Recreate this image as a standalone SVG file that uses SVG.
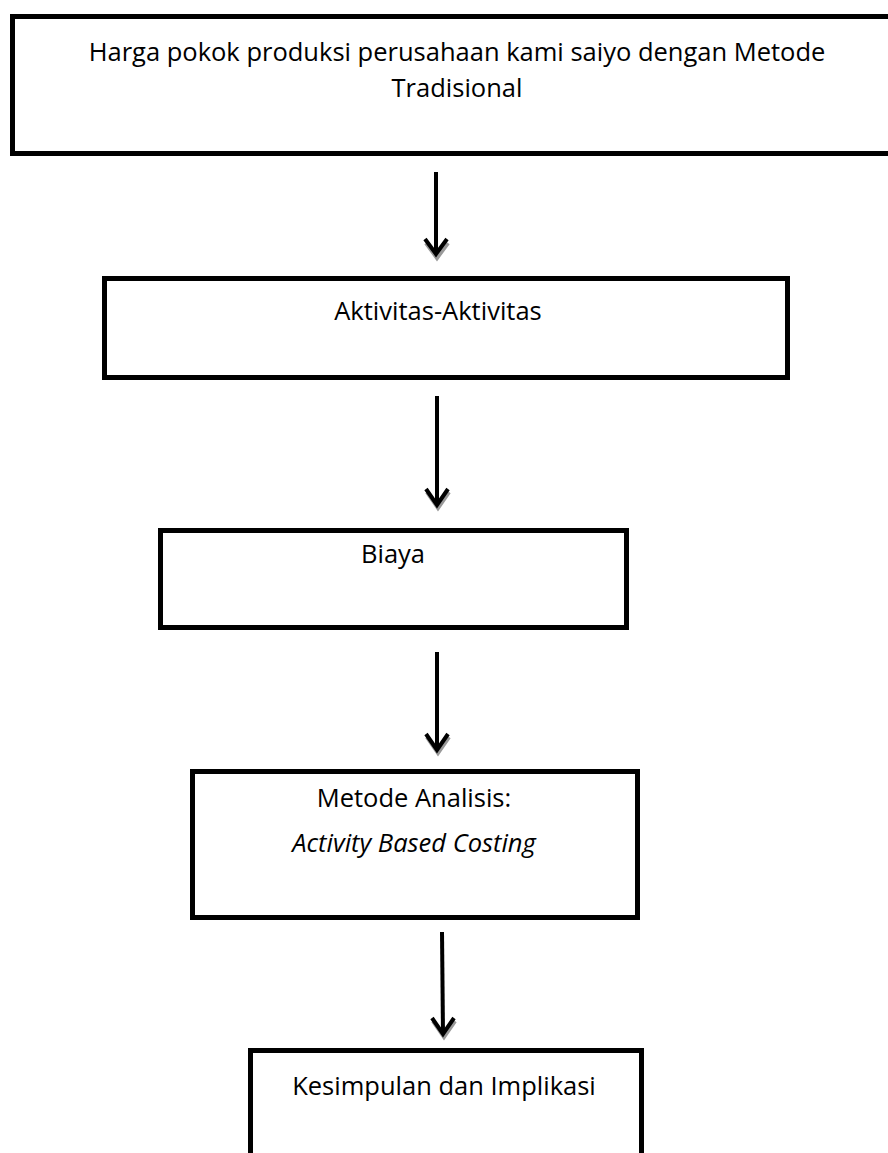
<svg xmlns="http://www.w3.org/2000/svg" width="888" height="1153" viewBox="0 0 888 1153">
<defs>
<style>
.box{fill:#fff;stroke:#000;stroke-width:5}
.t{font-family:"Open Sans","Liberation Sans",sans-serif;font-size:25.5px;fill:#000;text-anchor:middle}
.i{font-style:italic}
.sh{fill:none;stroke:#000;stroke-width:4}
.hd{fill:none;stroke:#000;stroke-width:4;stroke-linejoin:miter}
.hs{fill:none;stroke:#999;stroke-width:4;stroke-linejoin:miter}
</style>
</defs>
<rect width="888" height="1153" fill="#fff"/>
<g id="n1"><rect class="box" x="12.5" y="16.5" width="900" height="137"/>
<text class="t" x="457" y="61">Harga pokok produksi perusahaan kami saiyo dengan Metode</text>
<text class="t" x="457" y="97">Tradisional</text></g>
<g id="n2"><rect class="box" x="104.5" y="278.5" width="683" height="99"/>
<text class="t" x="438" y="320">Aktivitas-Aktivitas</text></g>
<g id="n3"><rect class="box" x="160.5" y="530.5" width="466" height="97"/>
<text class="t" x="393" y="563">Biaya</text></g>
<g id="n4"><rect class="box" x="192.5" y="771.5" width="445" height="146"/>
<text class="t" x="414" y="807">Metode Analisis:</text>
<text class="t i" x="414" y="852">Activity Based Costing</text></g>
<g id="n5"><rect class="box" x="250.5" y="1050.5" width="391" height="200"/>
<text class="t" x="444" y="1095">Kesimpulan dan Implikasi</text></g>
<g id="connectors">
<path class="hs" d="M426,243 L437,258 L448,243"/>
<path class="sh" d="M436,172 V254"/><path class="hd" d="M425,239 L436,254 L447,239"/>
<path class="hs" d="M427,492 L438,508 L449,492"/>
<path class="sh" d="M437,396 V505"/><path class="hd" d="M426,489 L437,505 L448,489"/>
<path class="hs" d="M427,737 L438,753 L449,737"/>
<path class="sh" d="M437,652 V750"/><path class="hd" d="M426,734 L437,750 L448,734"/>
<path class="hs" d="M433,1021 L444,1037 L455,1021"/>
<path class="sh" d="M442,932 L443,1034"/><path class="hd" d="M432,1018 L443,1034 L454,1018"/>
</g>
</svg>
